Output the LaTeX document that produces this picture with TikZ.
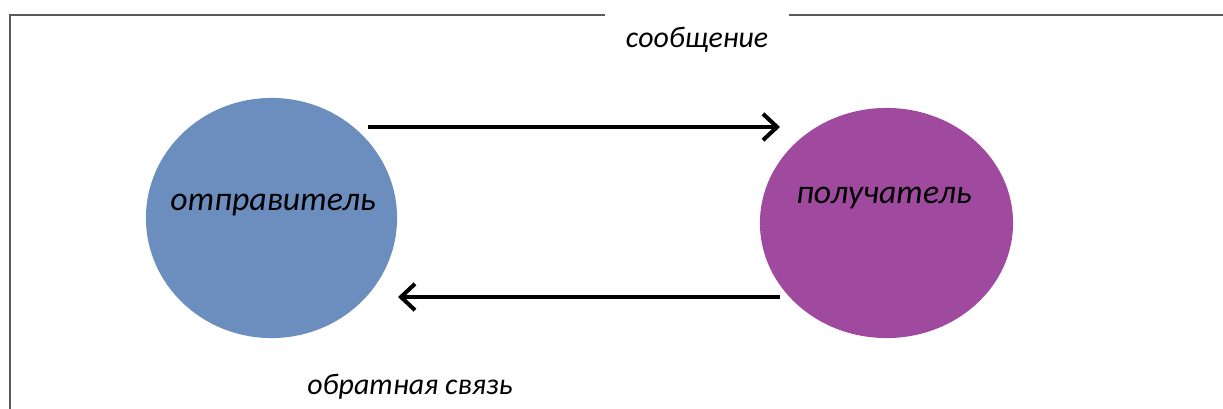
\documentclass[tikz,border=0pt]{standalone}
\usepackage{fontspec}
\setmainfont{Carlito}
\usetikzlibrary{arrows.meta,shapes.geometric}
\definecolor{senderblue}{HTML}{6C8EBF}
\definecolor{receiverpurple}{HTML}{A04A9F}
\definecolor{framegray}{HTML}{5A5A5A}
\begin{document}
\begin{tikzpicture}[x=0.01cm, y=-0.01cm,
  ball/.style={ellipse, inner sep=0pt},
  word/.style={font=\fontsize{8.5}{10}\selectfont\itshape, text=black},
  bigword/.style={font=\fontsize{9.6}{11}\selectfont\itshape, text=black},
  flow/.style={line width=1.15pt, -{Straight Barb[length=4pt, width=7.5pt, line width=1.15pt]}}]
  \useasboundingbox (0,0) rectangle (1223,409);
  \draw[framegray, line width=0.6pt] (605,15) -- (10,15) -- (10,409);
  \draw[framegray, line width=0.6pt] (789,15) -- (1223,15);

  \node[ball, fill=senderblue, minimum width=2.51cm, minimum height=2.40cm] (sender) at (271.5,218) {};
  \node[ball, fill=receiverpurple, minimum width=2.53cm, minimum height=2.30cm] (receiver) at (886.5,223) {};

  \node[bigword] (S) at (273,205) {отправитель};
  \node[bigword] (R) at (884,198) {получатель};
  \node[word] (M) at (697,40) {сообщение};
  \node[word] (F) at (410,387) {обратная связь};

  \coordinate (m1) at (368,127);
  \coordinate (m2) at (780,127);
  \coordinate (f1) at (780,297);
  \coordinate (f2) at (398,297);
  \draw[flow] (m1) -- (m2);
  \draw[flow] (f1) -- (f2);

\end{tikzpicture}
\end{document}
